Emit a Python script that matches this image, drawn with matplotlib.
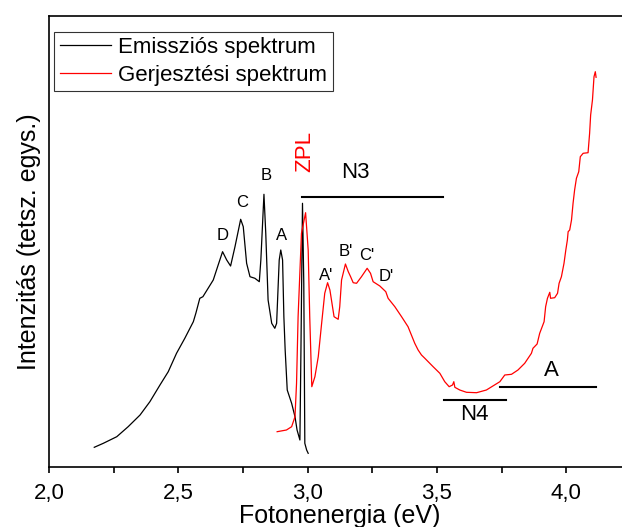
import matplotlib
matplotlib.use("Agg")
import matplotlib.pyplot as plt
from matplotlib.ticker import MultipleLocator, FuncFormatter

plt.rcParams['font.family'] = ['Liberation Sans', 'DejaVu Sans']

# Emission spectrum (black)
em_x = [2.175, 2.210, 2.262, 2.306, 2.352, 2.390, 2.429, 2.461, 2.493, 2.525, 2.558, 2.568,
        2.583, 2.595, 2.635, 2.654, 2.671, 2.687, 2.702, 2.719, 2.741, 2.751, 2.764, 2.777,
        2.796, 2.813, 2.819, 2.831, 2.838, 2.847, 2.861, 2.873, 2.880, 2.890, 2.896, 2.903,
        2.908, 2.913, 2.921, 2.938, 2.951, 2.959, 2.970, 2.974, 2.980, 2.985, 2.989, 2.996, 3.002]
em_y = [19.4, 23.4, 30, 40, 51.7, 65, 81.7, 95, 113.4, 128.4, 145, 153.7,
        168.4, 170, 186.7, 201.7, 215, 206.7, 200.7, 220, 247.4, 240, 203.4, 190,
        188.4, 185, 206.7, 272.4, 233.4, 166.7, 143.4, 138.4, 143.4, 206.7, 216.7, 206.7,
        150, 116.7, 76.7, 63.4, 50, 36.7, 26.7, 116.7, 263.4, 183.4, 23.4, 16.7, 13.4]

# Excitation spectrum (red)
ex_x = [2.882, 2.918, 2.938, 2.951, 2.957, 2.963, 2.976, 2.992, 3.002, 3.008, 3.016, 3.028,
        3.041, 3.054, 3.066, 3.077, 3.086, 3.092, 3.102, 3.118, 3.124, 3.131, 3.146, 3.157,
        3.166, 3.176, 3.189, 3.208, 3.230, 3.243, 3.253, 3.279, 3.302, 3.311, 3.337, 3.363,
        3.388, 3.414, 3.427, 3.440, 3.453, 3.485, 3.511, 3.530, 3.547, 3.560, 3.565, 3.569,
        3.588, 3.614, 3.653, 3.691, 3.743, 3.762, 3.788, 3.813, 3.839, 3.865, 3.871, 3.887,
        3.897, 3.914, 3.920, 3.927, 3.936, 3.939, 3.955, 3.966, 3.972, 3.981, 3.991, 3.998,
        4.004, 4.007, 4.013, 4.020, 4.026, 4.032, 4.039, 4.048, 4.054, 4.065, 4.084, 4.090,
        4.094, 4.101, 4.107, 4.112, 4.115]
ex_y = [35, 36.7, 40, 50, 83.4, 150, 233.4, 254, 216.7, 150, 80, 90,
        110, 143.4, 173.4, 184, 176.7, 166.7, 150, 147.4, 160, 186.7, 202.7, 195,
        190, 184, 183.4, 190, 198.4, 193.4, 185, 180.7, 175, 168.4, 160, 150,
        140, 123.4, 116.7, 111.7, 108.4, 100, 93.4, 85, 80, 81.7, 85, 79.4,
        76.7, 74.4, 74, 76.7, 85, 91.7, 92.4, 96.7, 103.4, 113.4, 118.4, 122.7,
        133.4, 145, 160, 168.4, 174.4, 168.4, 169, 173.4, 183.4, 190, 203.4, 216.7,
        226.7, 235, 236.7, 246.7, 263.4, 276.7, 288.4, 295, 310, 313.4, 314, 333.4,
        351.7, 366.7, 390, 395, 389.4]

legend_labels = ["Emissziós spektrum", "Gerjesztési spektrum"]
x_ticks = [2.0, 2.5, 3.0, 3.5, 4.0]

fig = plt.figure(figsize=(6.22, 5.27), dpi=100)
ax = fig.add_axes([49/622, 60.3/527, 582/622, 451/527])

ax.plot(em_x, em_y, color='black', lw=0.9, label=legend_labels[0])
ax.plot(ex_x, ex_y, color='red', lw=0.9, label=legend_labels[1])

ax.set_xlim(2.0, 4.25)
ax.set_ylim(0, 451)
ax.set_xticks(x_ticks)
ax.xaxis.set_minor_locator(MultipleLocator(0.25))
ax.xaxis.set_major_formatter(FuncFormatter(lambda v, p: f"{v:.1f}".replace('.', ',')))
ax.set_yticks([])
ax.tick_params(axis='x', which='both', direction='out', length=4, width=1.2,
               labelsize=16, pad=8)
for s in ax.spines.values():
    s.set_linewidth(1.2)

ax.set_xlabel("Fotonenergia (eV)", fontsize=18, labelpad=0)
ax.set_ylabel("Intenzitás (tetsz. egys.)", fontsize=18, labelpad=6)

# peak labels
for txt, x, y in [("D", 2.673, 230.7), ("C", 2.745, 264), ("B", 2.838, 291.7), ("A", 2.899, 231.7),
                  ("A'", 3.070, 191.7), ("B'", 3.146, 215), ("C'", 3.230, 210.7), ("D'", 3.305, 190)]:
    ax.text(x, y, txt, fontsize=12, ha='center', va='center')

ax.text(2.989, 314.7, "ZPL", color='red', fontsize=16, rotation=90, ha='center', va='center')

ax.plot([2.978, 3.522], [270, 270], color='black', lw=1.5)
ax.text(3.186, 293.7, "N3", fontsize=16, ha='center', va='center')
ax.plot([3.526, 3.766], [66.7, 66.7], color='black', lw=1.5)
ax.text(3.646, 51.7, "N4", fontsize=16, ha='center', va='center')
ax.plot([3.745, 4.116], [79.7, 79.7], color='black', lw=1.5)
ax.text(3.942, 96.7, "A", fontsize=16, ha='center', va='center')

leg = ax.legend(loc='upper left', bbox_to_anchor=(54/622, (527-31.7)/527),
                bbox_transform=fig.transFigure, borderaxespad=0, fontsize=16,
                frameon=True, fancybox=False, handlelength=2.3, handletextpad=0.35,
                labelspacing=0.3, borderpad=0.25)
leg.get_frame().set_edgecolor('black')
leg.get_frame().set_linewidth(0.8)

fig.savefig("out.png", dpi=100)
